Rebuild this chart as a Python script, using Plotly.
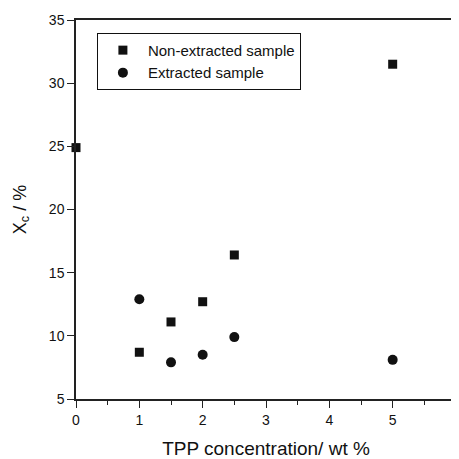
import plotly.graph_objects as go

non_x = [0, 1, 1.5, 2, 2.5, 5]
non_y = [24.9, 8.7, 11.1, 12.7, 16.4, 31.5]
ext_x = [1, 1.5, 2, 2.5, 5]
ext_y = [12.9, 7.9, 8.5, 9.9, 8.1]

font = "Liberation Sans, Arial, sans-serif"

fig = go.Figure()
fig.add_trace(go.Scatter(x=non_x, y=non_y, mode="markers", name="Non-extracted sample",
                         marker=dict(symbol="square", size=9, color="#111111"), cliponaxis=False))
fig.add_trace(go.Scatter(x=ext_x, y=ext_y, mode="markers", name="Extracted sample",
                         marker=dict(symbol="circle", size=10, color="#111111"), cliponaxis=False))

fig.update_layout(
    width=451, height=451,
    margin=dict(l=68, r=1, t=12, b=59),
    paper_bgcolor="white", plot_bgcolor="white",
    font=dict(family=font, size=14, color="#111111"),
    showlegend=True,
    legend=dict(x=0.055, y=0.966, xanchor="left", yanchor="top",
                bordercolor="#111111", borderwidth=1, bgcolor="white",
                font=dict(size=15), tracegroupgap=0, itemwidth=40),
    xaxis=dict(range=[0, 6], dtick=1, tick0=0, showgrid=False, zeroline=False,
               showline=True, linecolor="#222222", linewidth=1.5, mirror=True,
               ticks="outside", ticklen=7, tickcolor="#222222",
               minor=dict(dtick=0.5, ticks="outside", ticklen=4, tickcolor="#222222"),
               tickfont=dict(size=14),
               title=dict(text="TPP concentration/ wt %", font=dict(size=19), standoff=17)),
    yaxis=dict(range=[5, 35], dtick=5, showgrid=False, zeroline=False,
               showline=True, linecolor="#222222", linewidth=1.5, mirror=True,
               ticks="outside", ticklen=7, tickcolor="#222222",
               tickfont=dict(size=14),
               title=dict(text="X<sub>c</sub> / %", font=dict(size=18), standoff=18)),
)

fig.write_html("out.html")
